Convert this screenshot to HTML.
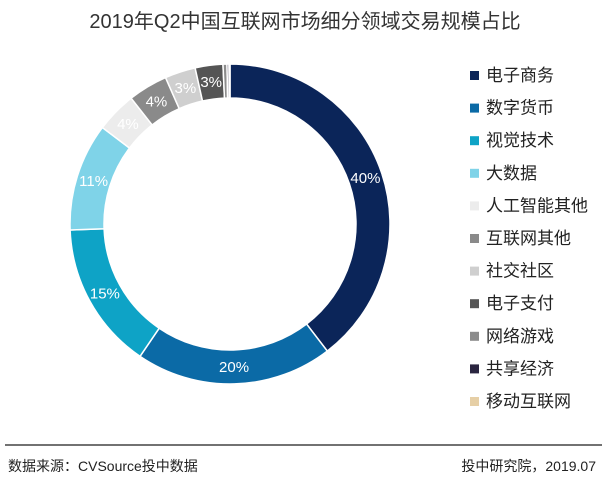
<!DOCTYPE html>
<html><head><meta charset="utf-8"><style>
body{margin:0;background:#fff;width:610px;height:481px;overflow:hidden;font-family:"Liberation Sans","Noto Sans CJK SC",sans-serif;}
</style></head><body>
<svg width="610" height="481" id="chart" style="font-family:'Liberation Sans','Noto Sans CJK SC',sans-serif">
<text x="305" y="28" text-anchor="middle" font-size="20" fill="#333">2019年Q2中国互联网市场细分领域交易规模占比</text>
<g id="slices"></g><g id="labels"></g><g id="legend"></g>
<line x1="5" y1="445" x2="602" y2="445" stroke="#444" stroke-width="1.5"/>
<text x="8" y="471" font-size="14" fill="#222">数据来源：CVSource投中数据</text>
<text x="596" y="471" font-size="14" fill="#222" text-anchor="end">投中研究院，2019.07</text>
</svg>
<script>
const categories=["电子商务","数字货币","视觉技术","大数据","人工智能其他","互联网其他","社交社区","电子支付","网络游戏","共享经济","移动互联网"];
const values=[39.6,19.9,14.9,10.9,4.1,4.0,3.1,2.8,0.4,0.2,0.1];
const labels=["40%","20%","15%","11%","4%","4%","3%","3%","","",""];
const colors=["#0b2559","#0b6aa6","#0ea3c6","#7fd3e8","#ececec","#8a8a8a","#cfcfcf","#555555","#8c8c8c","#2a2540","#e6cfa6"];
const NS="http://www.w3.org/2000/svg";
const cx=230,cy=224,R=160,r=126;
const total=values.reduce((a,b)=>a+b,0);
const sl=document.getElementById('slices'),lb=document.getElementById('labels'),lg=document.getElementById('legend');
function pt(a,rad){return [cx+rad*Math.sin(a),cy-rad*Math.cos(a)];}
let acc=0;
values.forEach((v,i)=>{
  const a0=acc/total*2*Math.PI;acc+=v;const a1=acc/total*2*Math.PI;
  const large=(a1-a0)>Math.PI?1:0;
  const [x0,y0]=pt(a0,R),[x1,y1]=pt(a1,R),[x2,y2]=pt(a1,r),[x3,y3]=pt(a0,r);
  const p=document.createElementNS(NS,'path');
  p.setAttribute('d',`M${x0},${y0}A${R},${R} 0 ${large} 1 ${x1},${y1}L${x2},${y2}A${r},${r} 0 ${large} 0 ${x3},${y3}Z`);
  p.setAttribute('fill',colors[i]);p.setAttribute('stroke','#fff');p.setAttribute('stroke-width','1.5');
  
  
  sl.appendChild(p);
  if(labels[i]){
    const [lx,ly]=pt((a0+a1)/2,(R+r)/2);
    const t=document.createElementNS(NS,'text');
    t.setAttribute('x',lx);t.setAttribute('y',ly+5);t.setAttribute('text-anchor','middle');
    t.setAttribute('font-size','15');t.setAttribute('fill','#fff');t.textContent=labels[i];
    
    
    lb.appendChild(t);
  }
  const y=75+i*32.6;
  const g=document.createElementNS(NS,'g');
  
  
  const s=document.createElementNS(NS,'rect');
  s.setAttribute('x',470);s.setAttribute('y',y-4);s.setAttribute('width',9);s.setAttribute('height',9);s.setAttribute('fill',colors[i]);
  const t=document.createElementNS(NS,'text');
  t.setAttribute('x',486);t.setAttribute('y',y+6);t.setAttribute('font-size','17');t.setAttribute('fill','#222');t.textContent=categories[i];
  g.appendChild(s);g.appendChild(t);lg.appendChild(g);
});
</script>
</body></html>
